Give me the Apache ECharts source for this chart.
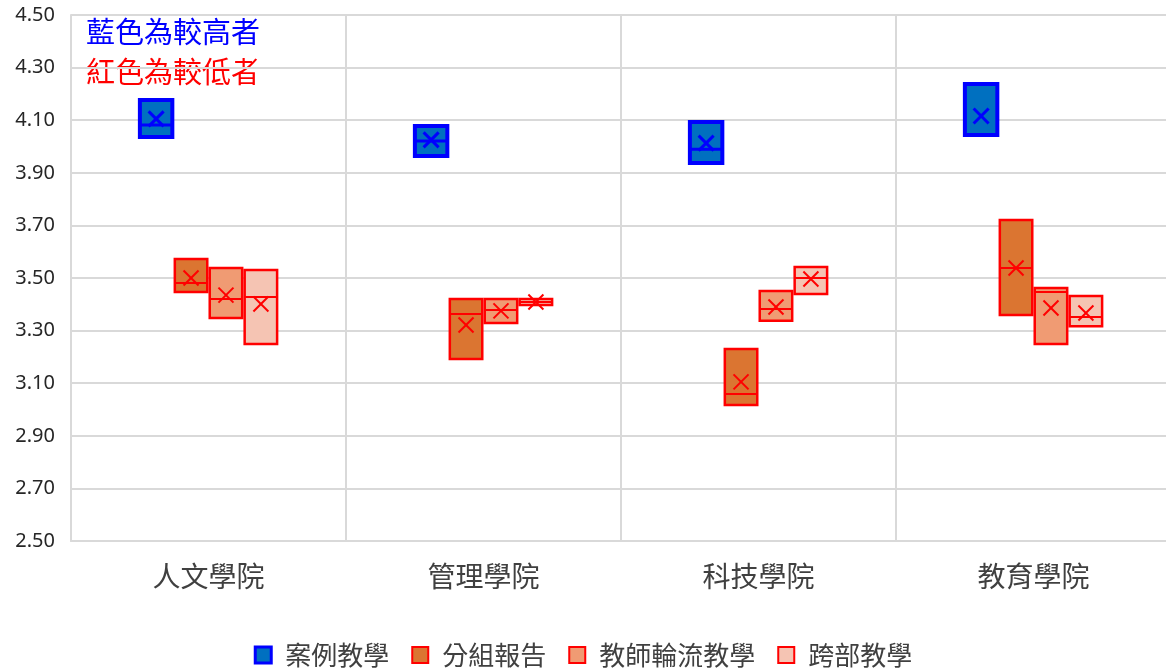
<!DOCTYPE html>
<html>
<head>
<meta charset="utf-8">
<script src="https://cdn.jsdelivr.net/npm/echarts@6/dist/echarts.min.js"></script>
<style>html,body{margin:0;padding:0;background:#fff;}#c{width:1166px;height:670px;}</style>
</head>
<body>
<div id="c"></div>
<script>
// Categories and tick labels
const categories = ['人文學院', '管理學院', '科技學院', '教育學院'];
const seriesNames = ['案例教學', '分組報告', '教師輪流教學', '跨部教學'];
const yTicks = [2.5, 2.7, 2.9, 3.1, 3.3, 3.5, 3.7, 3.9, 4.1, 4.3, 4.5];

// Each series: per category [Q1, median, Q3, mean]
const caseTeaching  = [[4.036, 4.082, 4.177, 4.105], [3.964, 4.021, 4.078, 4.025], [3.937, 3.990, 4.093, 4.013], [4.044, 4.044, 4.238, 4.116]];
const groupReport   = [[3.447, 3.481, 3.572, 3.500], [3.192, 3.363, 3.420, 3.321], [3.017, 3.059, 3.230, 3.105], [3.359, 3.538, 3.721, 3.538]];
const rotatingTeach = [[3.348, 3.420, 3.538, 3.435], [3.329, 3.378, 3.420, 3.375], [3.337, 3.382, 3.451, 3.390], [3.249, 3.447, 3.462, 3.386]];
const crossDept     = [[3.249, 3.428, 3.530, 3.401], [3.397, 3.409, 3.420, 3.409], [3.439, 3.500, 3.542, 3.496], [3.317, 3.352, 3.432, 3.367]];

const allSeries = [caseTeaching, groupReport, rotatingTeach, crossDept];
const styles = [
  {fill: '#0070C0', stroke: '#0000FF', bw: 4, mark: '#0000FF', mw: 3},
  {fill: '#DB7531', stroke: '#FF0000', bw: 2.5, mark: '#FF0000', mw: 2},
  {fill: '#F09B73', stroke: '#FF0000', bw: 2.5, mark: '#FF0000', mw: 2},
  {fill: '#F5C4B3', stroke: '#FF0000', bw: 2.5, mark: '#FF0000', mw: 2}
];

function makeRender(idx) {
  const st = styles[idx];
  return function (params, api) {
    const c = api.value(0);
    const lo = api.coord([c, api.value(1)]);
    const med = api.coord([c, api.value(2)]);
    const hi = api.coord([c, api.value(3)]);
    const mean = api.coord([c, api.value(4)]);
    const band = api.size([1, 0])[0];
    const off = (idx - 1.5) * band * 0.127;
    const w = band * 0.118;
    const cx = lo[0] + off;
    const x0 = cx - w / 2, x1 = cx + w / 2;
    const s = 7.5;
    return {
      type: 'group',
      children: [
        {type: 'rect', shape: {x: x0, y: hi[1], width: w, height: lo[1] - hi[1]},
         style: {fill: st.fill, stroke: st.stroke, lineWidth: st.bw}},
        {type: 'line', shape: {x1: x0, y1: med[1], x2: x1, y2: med[1]},
         style: {stroke: st.mark, lineWidth: st.mw}},
        {type: 'line', shape: {x1: cx - s, y1: mean[1] - s, x2: cx + s, y2: mean[1] + s},
         style: {stroke: st.mark, lineWidth: st.mw}},
        {type: 'line', shape: {x1: cx - s, y1: mean[1] + s, x2: cx + s, y2: mean[1] - s},
         style: {stroke: st.mark, lineWidth: st.mw}}
      ]
    };
  };
}

const series = allSeries.map(function (arr, idx) {
  return {
    name: seriesNames[idx],
    type: 'custom',
    renderItem: makeRender(idx),
    encode: {x: 0, y: [1, 2, 3, 4]},
    itemStyle: {color: styles[idx].fill, borderColor: styles[idx].stroke},
    data: arr.map(function (d, i) { return [i, d[0], d[1], d[2], d[3]]; })
  };
});

const chart = echarts.init(document.getElementById('c'));
chart.setOption({
  animation: false,
  grid: {left: 71, width: 1100, top: 15, bottom: 129, outerBoundsMode: 'none', containLabel: false},
  xAxis: {
    type: 'category',
    data: categories,
    boundaryGap: true,
    axisLine: {show: true, lineStyle: {color: '#d9d9d9', width: 2}},
    axisTick: {show: false},
    splitLine: {show: true, lineStyle: {color: '#d9d9d9', width: 2}},
    axisLabel: {fontSize: 28, color: '#404040', margin: 21, fontFamily: 'Noto Sans CJK TC'}
  },
  yAxis: {
    type: 'value',
    min: yTicks[0],
    max: yTicks[yTicks.length - 1],
    interval: 0.2,
    axisLine: {show: true, lineStyle: {color: '#d9d9d9', width: 2}},
    axisTick: {show: false},
    splitLine: {show: true, lineStyle: {color: '#d9d9d9', width: 2}},
    axisLabel: {fontSize: 20, color: '#262626', margin: 16, fontFamily: 'Noto Sans',
      formatter: function (v) { return v.toFixed(2); }}
  },
  legend: {
    bottom: -3,
    left: 'center',
    itemWidth: 16,
    itemHeight: 16,
    itemGap: 22,
    icon: 'rect',
    textStyle: {fontSize: 26, color: '#404040', fontFamily: 'Noto Sans CJK TC', padding: [0, 0, 0, 9]},
    data: seriesNames.map(function (n, i) {
      return {name: n, itemStyle: {color: styles[i].fill, borderColor: styles[i].stroke, borderWidth: i === 0 ? 3 : 2}};
    })
  },
  graphic: [
    {type: 'text', left: 86, top: 17, style: {text: '藍色為較高者', fill: '#0000FF', font: '29px "Noto Sans CJK TC"'}},
    {type: 'text', left: 86, top: 57, style: {text: '紅色為較低者', fill: '#FF0000', font: '29px "Noto Sans CJK TC"'}}
  ],
  series: series
});
</script>
</body>
</html>
